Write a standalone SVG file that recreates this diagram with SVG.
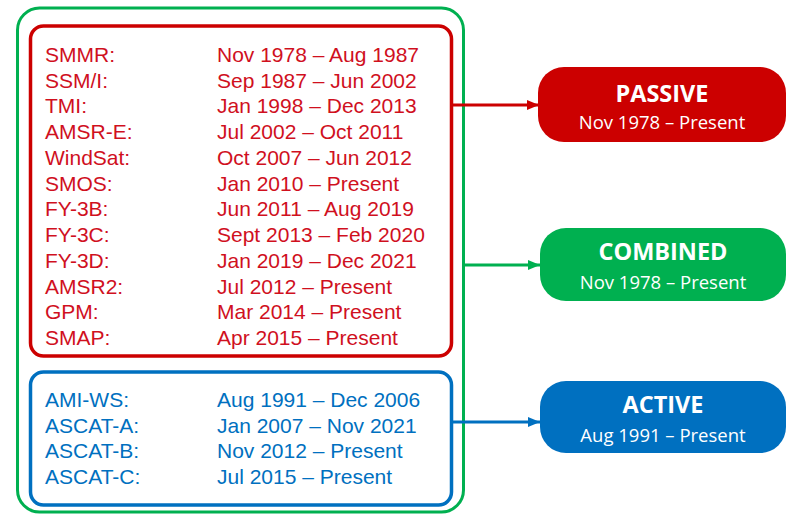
<svg xmlns="http://www.w3.org/2000/svg" width="786" height="516" viewBox="0 0 786 516">
<style>
.lst{font-family:"Liberation Sans",Arial,sans-serif;font-size:21px}
.r{fill:#D0101E}
.b{fill:#0070C0}
.t{font-family:"Open Sans","Noto Sans",sans-serif;fill:#fff;text-anchor:middle}
.h{font-size:23.5px;font-weight:bold}
.s{font-size:18.5px}
</style>
<defs>
<marker id="ar" viewBox="0 0 12 10" refX="12" refY="5" markerWidth="12" markerHeight="10" markerUnits="userSpaceOnUse" orient="auto"><path d="M0,0 L12,5 L0,10 z" fill="#CC0000"/></marker>
<marker id="ag" viewBox="0 0 12 10" refX="12" refY="5" markerWidth="12" markerHeight="10" markerUnits="userSpaceOnUse" orient="auto"><path d="M0,0 L12,5 L0,10 z" fill="#00B050"/></marker>
<marker id="ab" viewBox="0 0 12 10" refX="12" refY="5" markerWidth="12" markerHeight="10" markerUnits="userSpaceOnUse" orient="auto"><path d="M0,0 L12,5 L0,10 z" fill="#0070C0"/></marker>
</defs>
<rect width="786" height="516" fill="#fff"/>
<g id="combined-group">
<rect x="17.5" y="8" width="446" height="504" rx="22" fill="none" stroke="#00B050" stroke-width="3"/>
</g>
<g id="passive-list">
<rect x="30.5" y="26" width="421" height="330" rx="13" fill="none" stroke="#CC0000" stroke-width="3.5"/>
<g class="lst r">
<text x="45" y="62">SMMR:</text><text x="217" y="62">Nov 1978 – Aug 1987</text>
<text x="45" y="88">SSM/I:</text><text x="217" y="88">Sep 1987 – Jun 2002</text>
<text x="45" y="113">TMI:</text><text x="217" y="113">Jan 1998 – Dec 2013</text>
<text x="45" y="139">AMSR-E:</text><text x="217" y="139">Jul 2002 – Oct 2011</text>
<text x="45" y="165">WindSat:</text><text x="217" y="165">Oct 2007 – Jun 2012</text>
<text x="45" y="191">SMOS:</text><text x="217" y="191">Jan 2010 – Present</text>
<text x="45" y="216">FY-3B:</text><text x="217" y="216">Jun 2011 – Aug 2019</text>
<text x="45" y="242">FY-3C:</text><text x="217" y="242">Sept 2013 – Feb 2020</text>
<text x="45" y="268">FY-3D:</text><text x="217" y="268">Jan 2019 – Dec 2021</text>
<text x="45" y="294">AMSR2:</text><text x="217" y="294">Jul 2012 – Present</text>
<text x="45" y="319">GPM:</text><text x="217" y="319">Mar 2014 – Present</text>
<text x="45" y="345">SMAP:</text><text x="217" y="345">Apr 2015 – Present</text>
</g>
</g>
<g id="active-list">
<rect x="30.5" y="372" width="421" height="133" rx="13" fill="none" stroke="#0070C0" stroke-width="3.5"/>
<g class="lst b">
<text x="45" y="407">AMI-WS:</text><text x="217" y="407">Aug 1991 – Dec 2006</text>
<text x="45" y="433">ASCAT-A:</text><text x="217" y="433">Jan 2007 – Nov 2021</text>
<text x="45" y="458">ASCAT-B:</text><text x="217" y="458">Nov 2012 – Present</text>
<text x="45" y="484">ASCAT-C:</text><text x="217" y="484">Jul 2015 – Present</text>
</g>
</g>
<g id="connectors" fill="none" stroke-width="3">
<line x1="453" y1="105" x2="539" y2="105" stroke="#CC0000" marker-end="url(#ar)"/>
<line x1="465" y1="265" x2="540" y2="265" stroke="#00B050" marker-end="url(#ag)"/>
<line x1="453" y1="422" x2="540" y2="422" stroke="#0070C0" marker-end="url(#ab)"/>
</g>
<g id="passive">
<rect x="538" y="67" width="248" height="75" rx="26" fill="#CC0000"/>
<text class="t h" x="662" y="102">PASSIVE</text>
<text class="t s" x="662" y="129">Nov 1978 – Present</text>
</g>
<g id="combined">
<rect x="540" y="228" width="246" height="73" rx="26" fill="#00B050"/>
<text class="t h" x="663" y="260">COMBINED</text>
<text class="t s" x="663" y="289">Nov 1978 – Present</text>
</g>
<g id="active">
<rect x="540" y="381" width="246" height="72" rx="26" fill="#0070C0"/>
<text class="t h" x="663" y="413">ACTIVE</text>
<text class="t s" x="663" y="442">Aug 1991 – Present</text>
</g>
</svg>
